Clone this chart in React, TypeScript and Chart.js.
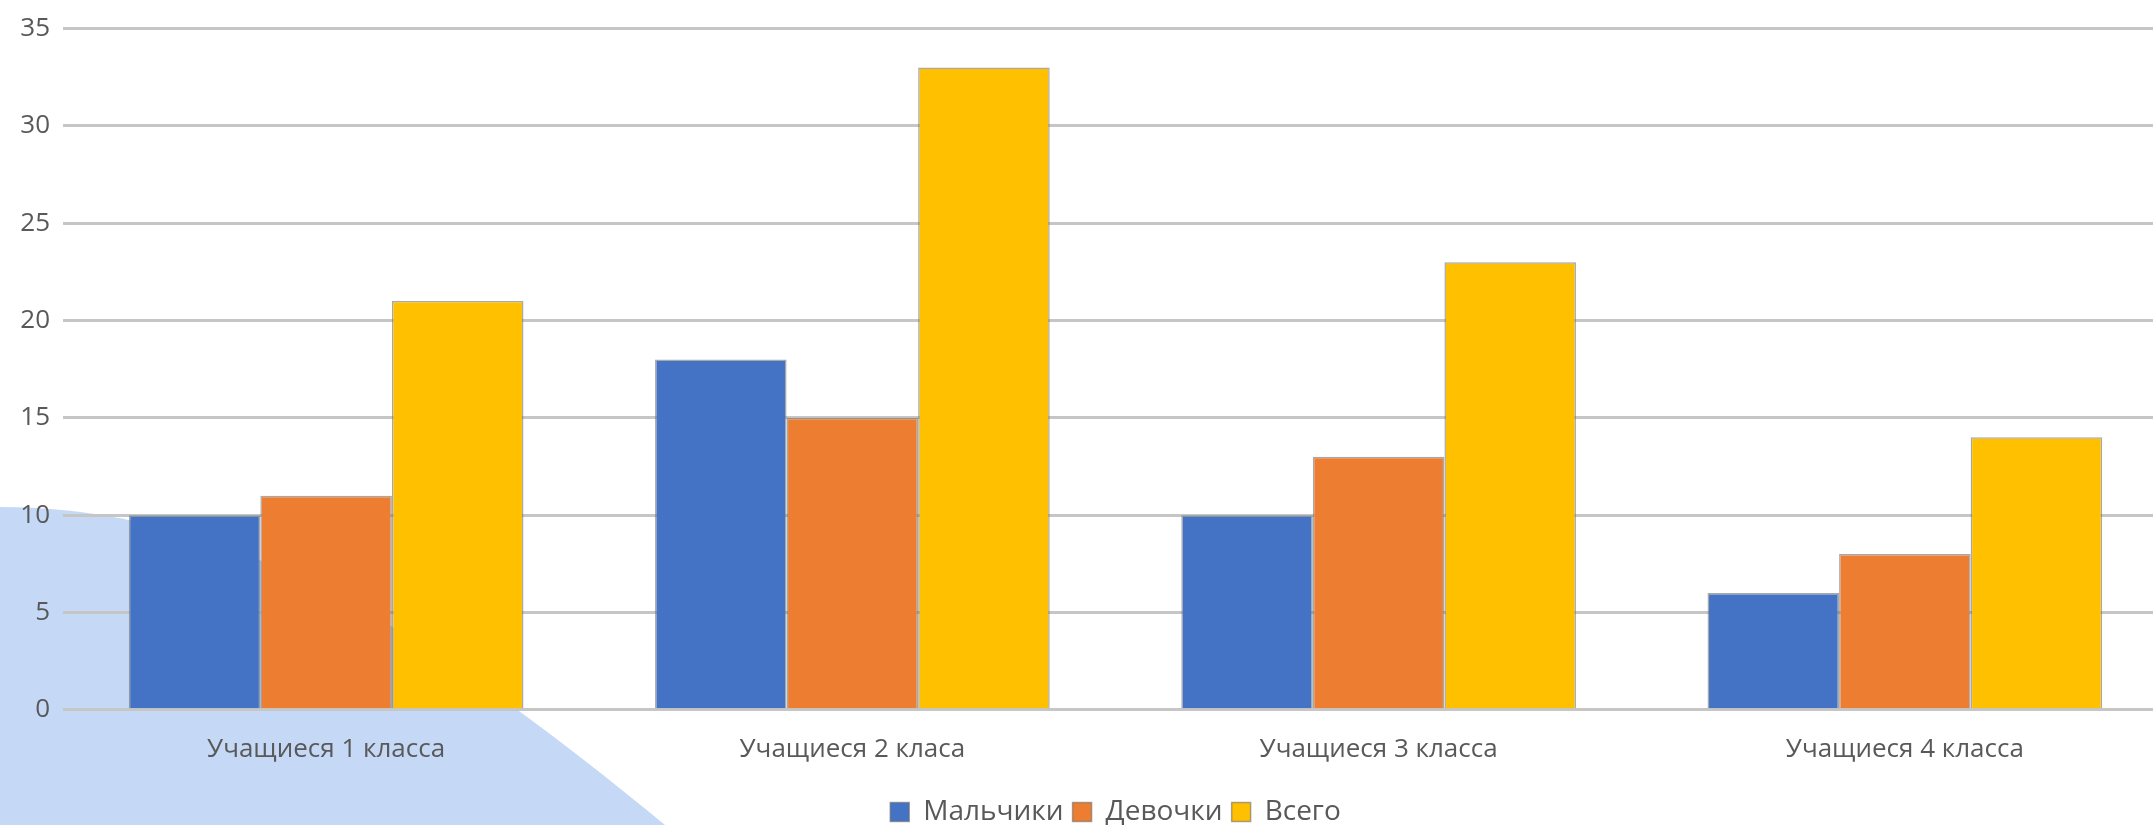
import React, { useEffect, useRef } from "react";
import { Chart, registerables } from "chart.js";

Chart.register(...registerables);

const categories = ["Учащиеся 1 класса", "Учащиеся 2 класа", "Учащиеся 3 класса", "Учащиеся 4 класса"];
const seriesNames = ["Мальчики", "Девочки", "Всего"];
const boys = [10, 18, 10, 6];
const girls = [11, 15, 13, 8];
const total = [21, 33, 23, 14];
const seriesColors = ["#4472c4", "#ed7d31", "#ffc000"];
const yMin = 0;
const yMax = 35;
const yStep = 5;

const FONT = "'Open Sans', 'Noto Sans', sans-serif";
const TEXT = "#595959";

export default function App() {
  const ref = useRef<HTMLCanvasElement | null>(null);

  useEffect(() => {
    if (!ref.current) return;
    const values = [boys, girls, total];
    const chart = new Chart(ref.current, {
      type: "bar",
      data: {
        labels: categories,
        datasets: seriesNames.map((name, i) => ({
          label: name,
          data: values[i],
          backgroundColor: seriesColors[i],
          borderColor: "rgba(110,110,110,0.6)",
          borderWidth: 1.5,
          categoryPercentage: 0.75,
          barPercentage: 1.0,
        })),
      },
      options: {
        responsive: false,
        animation: false,
        layout: { padding: { left: 0, right: 4, top: 25, bottom: -11 } },
        plugins: {
          tooltip: { enabled: false },
          legend: {
            position: "bottom",
            fullSize: false,
            labels: {
              boxWidth: 19,
              boxHeight: 19,
              padding: 9,
              color: TEXT,
              font: { family: FONT, size: 28 },
            },
          },
        },
        scales: {
          x: {
            grid: { display: false, drawTicks: false },
            border: { display: false },
            ticks: { color: TEXT, font: { family: FONT, size: 26 }, padding: 24 },
          },
          y: {
            min: yMin,
            max: yMax,
            afterFit: (scale: any) => {
              scale.width = 63;
            },
            ticks: {
              stepSize: yStep,
              color: TEXT,
              padding: 13,
              font: { family: FONT, size: 26 },
            },
            grid: { color: "#c6c6c6", lineWidth: 3, drawTicks: false },
            border: { display: false },
          },
        },
      },
    });
    return () => chart.destroy();
  }, []);

  return (
    <div
      style={{
        position: "fixed",
        left: 0,
        top: 0,
        width: 2153,
        height: 825,
        overflow: "hidden",
        background: "#ffffff",
      }}
    >
      <svg width={2153} height={825} style={{ position: "absolute", left: 0, top: 0 }}>
        <path d="M0 507 C240 507 440 640 665 825 L0 825 Z" fill="#c5d9f7" />
      </svg>
      <canvas
        ref={ref}
        width={2172}
        height={825}
        style={{ position: "absolute", left: 0, top: 0, width: 2172, height: 825 }}
      />
    </div>
  );
}
